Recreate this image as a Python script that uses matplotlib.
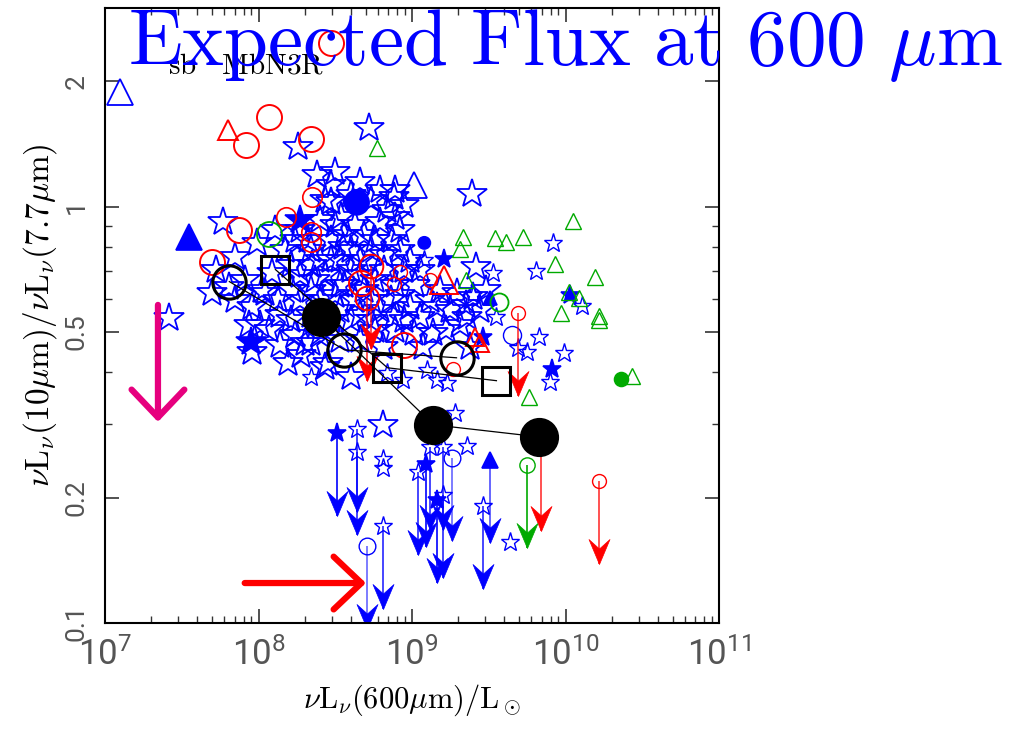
import numpy as np
import matplotlib
matplotlib.use("Agg")
import matplotlib.pyplot as plt
from matplotlib.path import Path
from matplotlib.ticker import FixedLocator, NullFormatter, LogLocator

# plain sans for tick numbers; Computer Modern is requested per text for the labels
plt.rcParams["mathtext.fontset"] = "custom"
plt.rcParams["mathtext.rm"] = "Roboto"
plt.rcParams["mathtext.it"] = "Roboto:italic"
plt.rcParams["mathtext.bf"] = "Roboto:bold"

# ---- data: log10 nuL_nu(600um)/Lsun and log10 of the 10um/7.7um ratio ----
# large open blue stars
star_big_lx = [8.72, 8.26, 8.38, 8.50, 8.66, 8.47, 8.54, 8.88, 8.84, 8.89, 8.79, 7.77, 7.85, 7.99,
               8.43, 8.40, 8.32, 8.55, 8.73, 8.87, 8.92, 7.42, 7.81, 7.70, 7.96, 7.85, 8.19, 8.28,
               8.43, 8.04, 8.13, 8.22, 8.09, 8.30, 9.42, 9.29, 9.40, 9.16, 9.36, 9.05, 9.14, 8.99,
               8.88, 9.01, 9.07, 9.38, 8.34, 8.45, 8.60, 8.81, 8.81, 9.48, 9.35, 9.44, 7.96, 9.39,
               8.27, 8.34, 8.40, 8.47, 8.53, 8.60, 8.66, 8.56, 8.50, 8.63, 8.69, 8.76, 8.82, 8.89,
               8.95, 8.99, 8.92, 8.86, 8.79, 8.73, 8.66, 8.60, 8.53, 8.47, 8.40, 8.34, 8.27, 8.21,
               8.17, 8.24, 8.37, 8.43, 8.56, 8.63, 8.69, 8.76, 8.82, 8.60, 8.66, 8.73, 8.47, 8.53,
               8.27, 8.34, 8.21, 8.14, 8.07, 8.01, 8.24, 8.40, 8.53, 8.66, 8.76, 8.89, 8.95, 9.02,
               9.05, 9.12, 9.18, 9.25, 9.22, 9.31, 8.73, 8.79, 8.92, 8.95, 8.60, 8.50, 8.47, 8.89,
               7.91, 7.72, 7.94, 8.14, 8.02, 8.11, 8.35]
star_big_ly = [0.190, 0.144, 0.075, 0.084, 0.060, 0.010, -0.024, 0.022, -0.007, -0.024, -0.038,
               -0.036, -0.120, -0.087, 0.017, -0.031, -0.079, -0.096, -0.103, -0.079, -0.103,
               -0.267, -0.192, -0.207, -0.240, -0.224, -0.375, -0.356, -0.385, -0.207, -0.224,
               -0.200, -0.159, -0.327, -0.144, -0.207, -0.216, -0.240, -0.264, -0.264, -0.303,
               -0.240, -0.264, -0.303, -0.337, -0.337, -0.327, -0.375, -0.409, -0.337, -0.524,
               -0.200, -0.236, -0.248, -0.349, 0.031,
               -0.055, -0.103, -0.127, -0.079, -0.127, -0.151, -0.127, -0.188, -0.212, -0.224,
               -0.200, -0.175, -0.151, -0.188, -0.151, -0.127, -0.212, -0.224, -0.248, -0.272,
               -0.260, -0.272, -0.248, -0.272, -0.224, -0.200, -0.163, -0.139, -0.103, -0.079,
               -0.175, -0.163, -0.067, -0.043, -0.067, -0.079, -0.115, -0.103, -0.163, -0.224,
               -0.127, -0.188, -0.224, -0.260, -0.272, -0.260, -0.296, -0.284, -0.308, -0.308,
               -0.320, -0.320, -0.296, -0.296, -0.272, -0.188, -0.151, -0.224, -0.200, -0.248,
               -0.296, -0.284, 0.017, 0.041, -0.055, 0.005, 0.029, -0.043, 0.053, 0.041,
               -0.175, -0.151, -0.284, -0.332, -0.200, -0.055, -0.139]

# small open blue stars
star_small_lx = [9.92, 9.81, 9.53, 10.11, 9.83, 9.75, 9.69, 9.99, 9.90, 9.28, 8.81, 8.81, 9.64,
                 9.36, 9.08, 9.10, 9.16, 9.23, 8.34, 8.84, 8.94, 9.55, 9.40]
star_small_ly = [-0.087, -0.154, -0.159, -0.238, -0.313, -0.349, -0.339, -0.351, -0.421, -0.495,
                 -0.606, -0.627, -0.805, -0.575, -0.127, -0.392, -0.416, -0.423, -0.409, -0.399,
                 -0.416, -0.264, -0.212]

# small open blue stars that are upper limits
star_lim_lx = [8.64, 8.64, 8.81, 9.04, 9.12, 9.20, 9.20, 9.46]
star_lim_ly = [-0.534, -0.589, -0.767, -0.637, -0.577, -0.577, -0.692, -0.719]

# filled blue stars
fstar_lim_lx = [8.51, 9.09, 9.16]
fstar_lim_ly = [-0.543, -0.618, -0.704]
fstar_small_lx = [9.21, 10.03, 9.91, 9.46]
fstar_small_ly = [-0.125, -0.212, -0.389, -0.313]
fstar_big_lx = [7.95, 8.27]
fstar_big_ly = [-0.325, -0.031]

# other blue symbols
btri_fill_lx, btri_fill_ly = [7.55], [-0.072]
btri_fill_small_lx, btri_fill_small_ly = [9.51], [-0.219]
btri_fill_lim_lx, btri_fill_lim_ly = [9.51], [-0.608]
btri_open_lx, btri_open_ly = [7.10, 9.01], [0.276, 0.053]
bcirc_open_lx, bcirc_open_ly = [9.65], [-0.308]
bcirc_lim_lx, bcirc_lim_ly = [8.71, 9.26], [-0.815, -0.603]
bcirc_fill_lx, bcirc_fill_ly = [8.64, 9.08], [0.010, -0.087]

# red symbols
rcirc_big_lx = [8.07, 7.92, 8.34, 8.47, 7.87, 7.70, 8.67, 8.95]
rcirc_big_ly = [0.216, 0.147, 0.163, 0.394, -0.055, -0.132, -0.183, -0.332]
rcirc_big_lim_lx = [8.73, 8.71]
rcirc_big_lim_ly = [-0.142, -0.219]
rcirc_mid_lx = [8.35, 8.18, 8.34, 8.34]
rcirc_mid_ly = [0.024, -0.026, -0.060, -0.084]
rcirc_small_lx = [8.92, 8.88, 9.12, 9.27]
rcirc_small_ly = [-0.156, -0.185, -0.175, -0.389]
rcirc_lim_lx = [9.69, 10.22, 9.84]
rcirc_lim_ly = [-0.255, -0.659, -0.579]
rtri_lx = [7.80, 9.21, 9.41, 9.44]
rtri_ly = [0.185, -0.175, -0.313, -0.327]
rtri_size = [15, 20, 13, 13]

# green symbols
gtri_lx = [10.05, 9.33, 9.31, 9.54, 9.61, 9.72, 9.93, 10.19, 10.02, 10.09, 9.97, 10.22, 10.22,
           9.35, 10.43, 9.76, 8.77]
gtri_ly = [-0.034, -0.072, -0.101, -0.075, -0.084, -0.072, -0.137, -0.168, -0.204, -0.219,
           -0.255, -0.262, -0.272, -0.175, -0.406, -0.457, 0.142]
gcirc_lx, gcirc_ly = [9.57, 8.07], [-0.228, -0.065]
gcirc_size = [13, 18]
gcirc_lim_lx, gcirc_lim_ly = [9.75], [-0.620]
gcirc_fill_lx, gcirc_fill_ly = [10.36], [-0.413]

# binned averages (black)
avg_open_lx, avg_open_ly = [7.81, 8.56, 9.29], [-0.180, -0.344, -0.363]
avg_sq_lx, avg_sq_ly = [8.11, 8.84, 9.55], [-0.151, -0.387, -0.418]
avg_fill_lx, avg_fill_ly = [8.41, 9.14, 9.83], [-0.264, -0.524, -0.553]

# annotation arrows (log x, log y start -> end)
down_arrow = dict(lx=7.345, ly0=-0.236, ly1=-0.517)
right_arrow = dict(ly=-0.904, lx0=7.91, lx1=8.70)

x_tick_exp = [7, 8, 9, 10, 11]
y_ticks = [0.1, 0.2, 0.5, 1, 2]
y_tick_labels = ["0.1", "0.2", "0.5", "1", "2"]

LIM_DEX = 0.2  # length of upper-limit arrows in dex

BLUE, RED, GREEN = "#0000ff", "#ff0000", "#00aa00"
TICK_GREY = "#555555"

# notched arrow head with its tip at the origin
HEAD = Path([(0, 0), (-0.42, 1.0), (0, 0.62), (0.42, 1.0), (0, 0)],
            [Path.MOVETO, Path.LINETO, Path.LINETO, Path.LINETO, Path.CLOSEPOLY])


def xy(lx, ly):
    return 10 ** np.asarray(lx, float), 10 ** np.asarray(ly, float)


fig = plt.figure(figsize=(10.25, 7.30), dpi=100)
ax = fig.add_axes([105 / 1025, 1 - 623 / 730, (719 - 105) / 1025, (623 - 8) / 730])
ax.set_xscale("log")
ax.set_yscale("log")
ax.set_xlim(1e7, 1e11)
ax.set_ylim(0.1, 3.0)


def points(lx, ly, marker, ms, color, filled=False, mew=1.2, z=2):
    x, y = xy(lx, ly)
    ax.plot(x, y, ls="none", marker=marker, ms=ms, mec=color,
            mfc=color if filled else "none", mew=mew, zorder=z)


def limits(lx, ly, color, alpha=1.0, z=2.5):
    x, y = xy(lx, ly)
    ytip = y * 10 ** (-LIM_DEX)
    ax.vlines(x, ytip, y, colors=color, lw=1.2, alpha=alpha, zorder=z)
    ax.plot(x, ytip, ls="none", marker=HEAD, ms=36, mfc=color, mec=color, mew=0.5, zorder=z)


# blue stars
points(star_big_lx, star_big_ly, "*", 22, BLUE, mew=1.3)
points(star_small_lx, star_small_ly, "*", 14, BLUE, mew=1.0)
points(fstar_big_lx, fstar_big_ly, "*", 22, BLUE, filled=True)
points(fstar_small_lx, fstar_small_ly, "*", 14, BLUE, filled=True)

# upper limits
limits(star_lim_lx, star_lim_ly, BLUE, alpha=0.85)
points(star_lim_lx, star_lim_ly, "*", 14, BLUE, mew=1.0, z=2.6)
limits(fstar_lim_lx, fstar_lim_ly, BLUE)
points(fstar_lim_lx, fstar_lim_ly, "*", 14, BLUE, filled=True, z=2.6)
limits(btri_fill_lim_lx, btri_fill_lim_ly, BLUE, alpha=0.7)
points(btri_fill_lim_lx, btri_fill_lim_ly, "^", 11, BLUE, filled=True, z=2.6)
limits(bcirc_lim_lx, bcirc_lim_ly, BLUE, alpha=0.6)
points(bcirc_lim_lx, bcirc_lim_ly, "o", 12, BLUE, mew=1.0, z=2.6)

# other blue symbols
points(btri_fill_lx, btri_fill_ly, "^", 19, BLUE, filled=True, z=3)
points(btri_fill_small_lx, btri_fill_small_ly, "^", 10, BLUE, filled=True, z=3)
points(btri_open_lx, btri_open_ly, "^", 19, BLUE, mew=1.3, z=3)
points(bcirc_open_lx, bcirc_open_ly, "o", 13, BLUE, mew=1.0, z=3)
x, y = xy(bcirc_fill_lx, bcirc_fill_ly)
ax.scatter(x, y, s=[19 ** 2, 10 ** 2], color=BLUE, zorder=3, linewidths=0)

# red symbols
points(rcirc_big_lx, rcirc_big_ly, "o", 18, RED, mew=1.4, z=3)
limits(rcirc_big_lim_lx, rcirc_big_lim_ly, RED, alpha=0.8, z=3)
points(rcirc_big_lim_lx, rcirc_big_lim_ly, "o", 17, RED, mew=1.4, z=3)
points(rcirc_mid_lx, rcirc_mid_ly, "o", 14, RED, mew=1.2, z=3)
points(rcirc_small_lx, rcirc_small_ly, "o", 10, RED, mew=1.0, z=3)
limits(rcirc_lim_lx, rcirc_lim_ly, RED, alpha=0.8, z=3)
points(rcirc_lim_lx, rcirc_lim_ly, "o", 10, RED, mew=1.0, z=3)
x, y = xy(rtri_lx, rtri_ly)
for xi, yi, s in zip(x, y, rtri_size):
    ax.plot(xi, yi, ls="none", marker="^", ms=s, mfc="none", mec=RED, mew=1.4, zorder=3)

# green symbols
points(gtri_lx, gtri_ly, "^", 11, GREEN, mew=1.0, z=3)
x, y = xy(gcirc_lx, gcirc_ly)
for xi, yi, s in zip(x, y, gcirc_size):
    ax.plot(xi, yi, ls="none", marker="o", ms=s, mfc="none", mec=GREEN, mew=1.3, zorder=3)
limits(gcirc_lim_lx, gcirc_lim_ly, GREEN, z=3)
points(gcirc_lim_lx, gcirc_lim_ly, "o", 11, GREEN, mew=1.0, z=3)
points(gcirc_fill_lx, gcirc_fill_ly, "o", 10, GREEN, filled=True, z=3)

# binned averages
for lx, ly, mk, ms, filled in [(avg_open_lx, avg_open_ly, "o", 24, False),
                               (avg_sq_lx, avg_sq_ly, "s", 20, False),
                               (avg_fill_lx, avg_fill_ly, "o", 26, True)]:
    x, y = xy(lx, ly)
    ax.plot(x, y, color="black", lw=0.9, zorder=4)
    ax.plot(x, y, ls="none", marker=mk, ms=ms, mec="black",
            mfc="black" if filled else "none", mew=2.2, zorder=4)

# annotation arrows
arrow_style = "->,head_length=1.0,head_width=0.95"
ax.annotate("", xy=(10 ** down_arrow["lx"], 10 ** down_arrow["ly1"]),
            xytext=(10 ** down_arrow["lx"], 10 ** down_arrow["ly0"]),
            arrowprops=dict(arrowstyle=arrow_style, lw=4.5, color="#e6007e",
                            shrinkA=0, shrinkB=0, mutation_scale=20),
            zorder=5)
ax.annotate("", xy=(10 ** right_arrow["lx1"], 10 ** right_arrow["ly"]),
            xytext=(10 ** right_arrow["lx0"], 10 ** right_arrow["ly"]),
            arrowprops=dict(arrowstyle=arrow_style, lw=4.5, color=RED,
                            shrinkA=0, shrinkB=0, mutation_scale=20),
            zorder=5)

# axes styling
for sp in ax.spines.values():
    sp.set_linewidth(1.5)
ax.tick_params(which="both", direction="in", top=True, right=True, colors="#333333")
ax.tick_params(which="major", length=10, width=1.2)
ax.tick_params(which="minor", length=5, width=1.0)
ax.tick_params(axis="x", which="major", pad=10)
ax.tick_params(axis="y", which="major", pad=12)

xt = [10.0 ** e for e in x_tick_exp]
ax.xaxis.set_major_locator(FixedLocator(xt))
ax.xaxis.set_minor_locator(LogLocator(base=10, subs=np.arange(2, 10)))
ax.xaxis.set_minor_formatter(NullFormatter())
ax.set_xticklabels([r"$\mathregular{10^{%d}}$" % e for e in x_tick_exp],
                   fontsize=25, color=TICK_GREY, family="Roboto")

ax.yaxis.set_major_locator(FixedLocator(y_ticks))
ax.yaxis.set_minor_locator(FixedLocator([0.3, 0.4, 0.6, 0.7, 0.8, 0.9]))
ax.yaxis.set_minor_formatter(NullFormatter())
ax.set_yticklabels(y_tick_labels, fontsize=19, rotation=90, va="center",
                   color=TICK_GREY, family="Roboto")

xl = ax.set_xlabel(r"$\nu\mathrm{L}_\nu(600\mu\mathrm{m})/\mathrm{L}_\odot$",
                   fontsize=22, labelpad=8)
yl = ax.set_ylabel(r"$\nu\mathrm{L}_\nu(10\mu\mathrm{m})/\nu\mathrm{L}_\nu(7.7\mu\mathrm{m})$",
                   fontsize=24, labelpad=4)
t1 = fig.text(168 / 1025, 1 - 73 / 730, r"$\mathrm{sb\ \ \ MbN3R}$", fontsize=21,
              color="black", ha="left", va="baseline")
t2 = fig.text(128 / 1025, 1 - 65 / 730, r"$\mathrm{Expected\ Flux\ at\ 600\ }\mu\mathrm{m}$",
              fontsize=57, color=BLUE, ha="left", va="baseline")
for t in (xl, yl, t1, t2):
    t.set_math_fontfamily("cm")

fig.savefig("out.png", dpi=100)
